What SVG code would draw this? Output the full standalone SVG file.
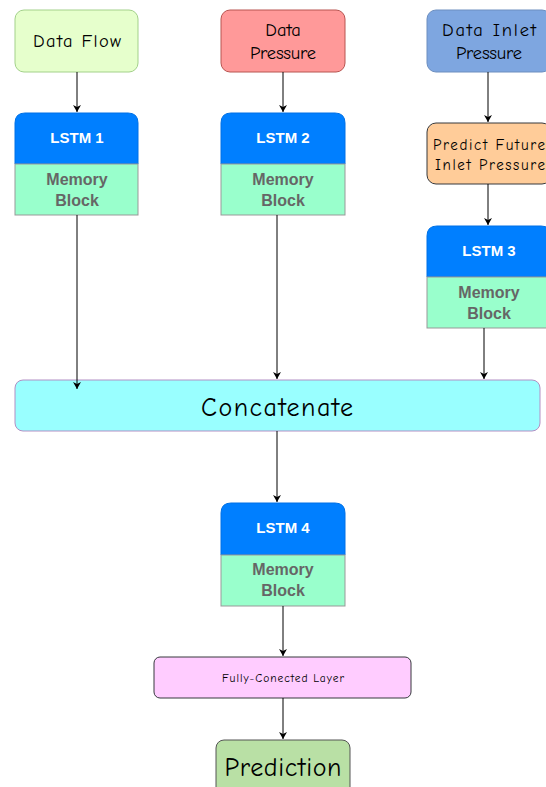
<svg xmlns="http://www.w3.org/2000/svg" width="546" height="787" viewBox="0 0 546 787">
<defs>
<marker id="ah" markerWidth="10" markerHeight="10" refX="8" refY="5" orient="auto" markerUnits="userSpaceOnUse">
<path d="M1,1 L8,5 L1,9 L3,5 Z" fill="#000"/>
</marker>
<style>
.hand{font-family:"Comic Sans MS","Comic Neue","Noto Sans",sans-serif;fill:#000;text-anchor:middle}
.hdr{font-family:"Liberation Sans",Arial,sans-serif;font-weight:bold;fill:#fff;font-size:15px;text-anchor:middle}
.mem{font-family:"Liberation Sans",Arial,sans-serif;font-weight:bold;fill:#666;font-size:16px;text-anchor:middle}
.blue{fill:#007fff;stroke:#0071e6;stroke-width:1}
.memb{fill:#99ffcc;stroke:#999;stroke-width:1}
.conn line{stroke:#000;stroke-width:1;marker-end:url(#ah)}
</style>
</defs>
<rect width="546" height="787" fill="#fff"/>

<g id="dataflow">
<rect x="15" y="10" width="123" height="62" rx="9" fill="#e6ffcc" stroke="#a3d18a"/>
<text class="hand" x="77" y="47" font-size="18.5" textLength="88">Data Flow</text>
</g>
<g id="datapressure">
<rect x="221" y="10" width="124" height="62" rx="9" fill="#ff9999" stroke="#b85450"/>
<text class="hand" x="283" y="36" font-size="18.5">Data</text>
<text class="hand" x="283" y="59" font-size="18.5" textLength="66">Pressure</text>
</g>
<g id="datainlet">
<rect x="427" y="10" width="124" height="62" rx="9" fill="#7ea6e0" stroke="#6c8ebf"/>
<text class="hand" x="489" y="36" font-size="18.5" textLength="94">Data Inlet</text>
<text class="hand" x="489" y="59" font-size="18.5" textLength="66">Pressure</text>
</g>
<g id="predictfuture">
<rect x="427" y="123" width="124" height="61" rx="9" fill="#ffcc99" stroke="#36393d"/>
<text class="hand" x="489" y="150" font-size="15" textLength="112">Predict Future</text>
<text class="hand" x="490" y="170" font-size="15" textLength="110">Inlet Pressure</text>
</g>

<g id="lstm1">
<path class="blue" d="M15,164 V123 Q15,113 25,113 H128 Q138,113 138,123 V164 Z"/>
<rect class="memb" x="15" y="164" width="123" height="51"/>
<text class="hdr" x="77" y="143">LSTM 1</text>
<text class="mem" x="77" y="185">Memory</text>
<text class="mem" x="77" y="206">Block</text>
</g>
<g id="lstm2">
<path class="blue" d="M221,164 V123 Q221,113 231,113 H335 Q345,113 345,123 V164 Z"/>
<rect class="memb" x="221" y="164" width="124" height="51"/>
<text class="hdr" x="283" y="143">LSTM 2</text>
<text class="mem" x="283" y="185">Memory</text>
<text class="mem" x="283" y="206">Block</text>
</g>
<g id="lstm3">
<path class="blue" d="M427,277 V236 Q427,226 437,226 H541 Q551,226 551,236 V277 Z"/>
<rect class="memb" x="427" y="277" width="124" height="51"/>
<text class="hdr" x="489" y="256">LSTM 3</text>
<text class="mem" x="489" y="298">Memory</text>
<text class="mem" x="489" y="319">Block</text>
</g>

<g id="concatenate">
<rect x="15" y="380" width="525" height="51" rx="8" fill="#99ffff" stroke="#b38fc4"/>
<text class="hand" x="277" y="416" font-size="26" textLength="152">Concatenate</text>
</g>

<g id="lstm4">
<path class="blue" d="M221,555 V513 Q221,503 231,503 H335 Q345,503 345,513 V555 Z"/>
<rect class="memb" x="221" y="555" width="124" height="51"/>
<text class="hdr" x="283" y="533">LSTM  4</text>
<text class="mem" x="283" y="575">Memory</text>
<text class="mem" x="283" y="596">Block</text>
</g>

<g id="fc">
<rect x="154" y="657" width="257" height="41" rx="6" fill="#ffccff" stroke="#36393d"/>
<text class="hand" x="283" y="682" font-size="11.5" textLength="122">Fully-Conected Layer</text>
</g>

<g id="prediction">
<rect x="216" y="740" width="134" height="55" rx="8" fill="#b9e0a5" stroke="#555"/>
<text class="hand" x="283" y="776" font-size="26" textLength="117">Prediction</text>
</g>

<g class="conn" id="connectors">
<line x1="77" y1="72" x2="77" y2="112"/>
<line x1="283" y1="72" x2="283" y2="112"/>
<line x1="488" y1="72" x2="488" y2="122"/>
<line x1="488" y1="184" x2="488" y2="225"/>
<line x1="77" y1="215" x2="77" y2="389"/>
<line x1="277" y1="215" x2="277" y2="379"/>
<line x1="484" y1="328" x2="484" y2="379"/>
<line x1="277" y1="431" x2="277" y2="502"/>
<line x1="283" y1="606" x2="283" y2="656"/>
<line x1="283" y1="698" x2="283" y2="739"/>
</g>
</svg>
